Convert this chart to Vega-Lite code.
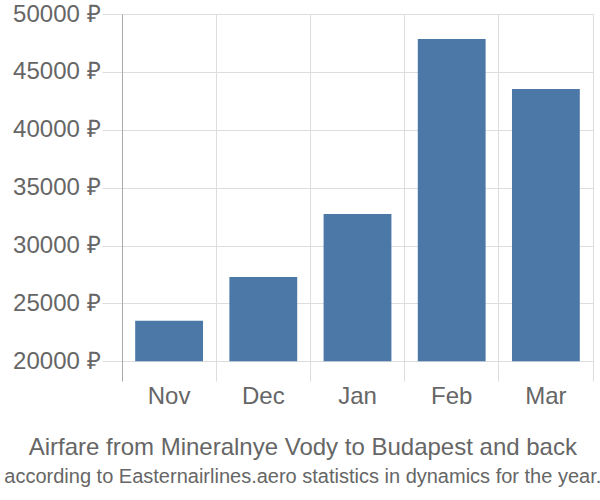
{
  "$schema": "https://vega.github.io/schema/vega-lite/v6.json",
  "autosize": "none",
  "width": 471,
  "height": 367,
  "padding": {"left": 122, "top": 14, "right": 7, "bottom": 119},
  "background": "white",
  "config": {
    "font": "Liberation Sans",
    "view": {"stroke": null}
  },
  "title": {
    "text": "Airfare from Mineralnye Vody to Budapest and back",
    "subtitle": "according to Easternairlines.aero statistics in dynamics for the year.",
    "orient": "bottom",
    "anchor": "middle",
    "frame": "bounds",
    "fontSize": 24,
    "fontWeight": "normal",
    "color": "#666666",
    "subtitleFontSize": 20,
    "subtitleColor": "#666666",
    "subtitlePadding": 7,
    "offset": 28
  },
  "data": {
    "values": [
      {"month": "Nov", "price": 23510},
      {"month": "Dec", "price": 27280},
      {"month": "Jan", "price": 32720},
      {"month": "Feb", "price": 47840},
      {"month": "Mar", "price": 43520}
    ]
  },
  "layer": [
    {
      "mark": {"type": "bar", "color": "#4c78a8", "width": {"band": 0.72}},
      "encoding": {
        "x": {
          "field": "month",
          "type": "nominal",
          "sort": null,
          "scale": {"paddingInner": 0, "paddingOuter": 0},
          "axis": {
            "orient": "bottom",
            "title": null,
            "grid": true,
            "gridColor": "#dddddd",
            "bandPosition": 0,
            "domain": false,
            "ticks": false,
            "labelAngle": 0,
            "labelFontSize": 24,
            "labelColor": "#666666",
            "labelPadding": 3
          }
        },
        "y": {
          "field": "price",
          "type": "quantitative",
          "scale": {"domain": [18300, 50000], "nice": false, "zero": false},
          "axis": {
            "title": null,
            "values": [20000, 25000, 30000, 35000, 40000, 45000, 50000],
            "labelExpr": "format(datum.value, 'd') + ' ₽'",
            "grid": true,
            "gridColor": "#dddddd",
            "tickColor": "#dddddd",
            "tickSize": 20,
            "domainColor": "#aaaaaa",
            "labelFontSize": 24,
            "labelColor": "#666666",
            "labelPadding": 2
          }
        },
        "y2": {"datum": 20000}
      }
    },
    {
      "mark": {"type": "bar", "opacity": 0},
      "encoding": {
        "x": {
          "field": "month",
          "type": "nominal",
          "sort": null,
          "axis": {
            "orient": "top",
            "title": null,
            "grid": true,
            "gridColor": "#dddddd",
            "bandPosition": 1,
            "domain": false,
            "ticks": false,
            "labels": false
          }
        },
        "y": {"field": "price", "type": "quantitative"},
        "y2": {"datum": 20000}
      }
    }
  ],
  "resolve": {"axis": {"x": "independent"}}
}
